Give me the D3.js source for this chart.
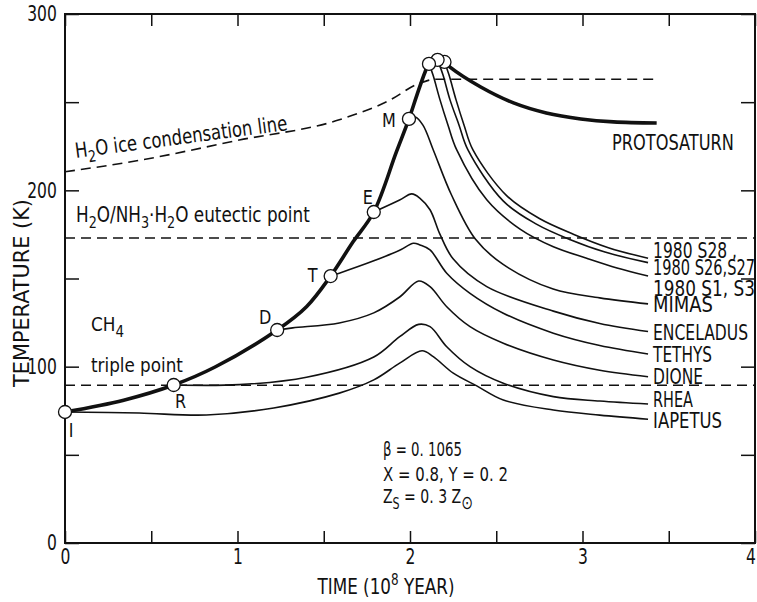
<!DOCTYPE html>
<html>
<head>
<meta charset="utf-8">
<script src="https://cdn.jsdelivr.net/npm/d3@7"></script>
<style>
  body { margin: 0; background: #fff; }
  text { font-family: "DejaVu Sans", sans-serif; fill: #111; }
</style>
</head>
<body>
<svg id="chart" width="757" height="602"></svg>
<script>
// tick values
const timeTicks = [0, 0.5, 1, 1.5, 2, 2.5, 3, 3.5, 4];
const tempTicks = [0, 50, 100, 150, 200, 250, 300];

// protosaturn midplane temperature, [time (1e8 yr), T (K)]
const protosaturn = [[0, 74.3], [0.34, 81], [0.63, 89.6], [0.87, 99.8], [1.23, 120.8], [1.40, 134], [1.54, 151.4],
  [1.67, 170.8], [1.79, 187.7], [1.92, 221.5], [1.994, 240.5], [2.04, 254], [2.087, 267], [2.11, 271.7],
  [2.16, 274], [2.20, 272.8], [2.23, 270], [2.41, 258.6], [2.60, 249.6], [2.79, 243.9], [2.99, 240.5],
  [3.18, 238.8], [3.43, 238.2]];

// satellite curves (first point = where they leave the protosaturn curve)
const s28 = [[2.20, 272.8], [2.226, 265.5], [2.267, 251.3], [2.313, 237.1], [2.365, 222.9], [2.56, 197], [2.75, 184], [2.95, 175], [3.15, 167.5], [3.38, 161.5]];
const s26s27 = [[2.16, 274], [2.191, 265.5], [2.232, 251.3], [2.284, 237.1], [2.336, 222.9], [2.54, 194], [2.73, 181], [2.93, 172], [3.13, 165], [3.38, 159]];
const s1s3 = [[2.11, 271.7], [2.133, 265.5], [2.174, 251.3], [2.22, 237.1], [2.271, 222.9], [2.445, 194.6], [2.638, 178], [2.831, 168], [3.024, 161.5], [3.2, 156], [3.38, 151.4]];
const mimas = [[1.994, 240.5], [2.03, 241.6], [2.075, 237], [2.135, 222.9], [2.24, 197.5], [2.38, 172.2], [2.54, 158], [2.83, 144], [3.1, 139], [3.38, 135.6]];
const enceladus = [[1.79, 187.7], [1.94, 194.5], [2.01, 198], [2.058, 195.5], [2.116, 189], [2.174, 175], [2.251, 161], [2.445, 145.4], [2.831, 131.5], [3.1, 124.5], [3.38, 119.9]];
const tethys = [[1.54, 151.4], [1.59, 153], [1.79, 160], [1.94, 166], [2.02, 170], [2.058, 169], [2.116, 166.2], [2.213, 153], [2.348, 141.6], [2.541, 130.3], [2.831, 119], [3.1, 112], [3.38, 107.2]];
const dione = [[1.23, 120.8], [1.32, 122], [1.59, 124.8], [1.79, 130.5], [1.94, 139.5], [2.05, 148.6], [2.116, 145.4], [2.213, 134], [2.348, 122.7], [2.541, 113.3], [2.831, 103.8], [3.1, 98], [3.38, 94.3]];
const rhea = [[0.63, 89.6], [1.01, 89.8], [1.40, 94], [1.79, 105.5], [1.94, 117], [2.05, 124], [2.116, 122.7], [2.213, 111.3], [2.348, 100], [2.541, 90.6], [2.831, 83], [3.1, 80.5], [3.38, 78.8]];
const iapetus = [[0, 74.3], [0.43, 73.7], [0.82, 72.6], [1.21, 76.6], [1.59, 85], [1.79, 92.5], [1.94, 102], [2.07, 109], [2.135, 105.7], [2.251, 96.3], [2.387, 89.1], [2.541, 81.1], [2.831, 75.4], [3.1, 72.5], [3.38, 70.2]];

// names
const satNames = ["1980 S28 ,", "1980 S26,S27", "1980 S1,  S3", "MIMAS", "ENCELADUS", "TETHYS", "DIONE", "RHEA", "IAPETUS"];
const markerNames = ["", "", "", "M", "E", "T", "D", "R", "I"];

// reference lines
const iceLine = [[0, 210.5], [0.43, 217], [1.01, 228.5], [1.59, 240], [1.88, 251], [2.05, 260.5], [2.15, 263], [3.41, 263]];
const eutecticT = 173;
const ch4TripleT = 89.5;

const svg = d3.select("#chart");
const x = d3.scaleLinear().domain([0, 4]).range([65, 755]);
const y = d3.scaleLinear().domain([0, 300]).range([543, 14]);

const line = d3.line().x(d => x(d[0])).y(d => y(d[1])).curve(d3.curveCatmullRom.alpha(0.5));
const lineMono = d3.line().x(d => x(d[0])).y(d => y(d[1])).curve(d3.curveMonotoneX);

// narrow lettering like the original drawing: squeeze horizontally with a scale
const squeeze = (sel, f = 0.74) => sel.each(function () {
  const t = d3.select(this).attr("transform") || "";
  d3.select(this).attr("transform", `${t} scale(${f},1)`);
});
const fit = (sel, w) => sel.each(function () {
  const len = this.getComputedTextLength();
  const t = d3.select(this).attr("transform") || "";
  if (len > 0) d3.select(this).attr("transform", `${t} scale(${w / len},1)`);
});
const label = (tx, ty, size, extra = "") =>
  svg.append("text").attr("transform", `translate(${tx},${ty})${extra}`).attr("font-size", size);

// axes (ticks pointing inward)
const styleAxis = g => {
  g.select(".domain").remove();
  g.selectAll(".tick line").attr("stroke", "#111").attr("stroke-width", 1.5);
  g.selectAll(".tick text").attr("font-size", 21).attr("font-family", null).attr("fill", "#111");
};
svg.append("g").attr("transform", `translate(0,${y(0)})`)
  .call(d3.axisBottom(x).tickValues(timeTicks).tickSize(-12).tickPadding(6)
    .tickFormat(d => Number.isInteger(d) ? d : ""))
  .call(styleAxis)
  .call(g => g.selectAll(".tick text").attr("x", d => d === 4 ? -6 : 0).call(squeeze));
svg.append("g").attr("transform", `translate(0,${y(300)})`)
  .call(d3.axisTop(x).tickValues(timeTicks).tickSize(-12).tickFormat(""))
  .call(styleAxis);
svg.append("g").attr("transform", `translate(${x(0)},0)`)
  .call(d3.axisLeft(y).tickValues(tempTicks).tickSize(-14).tickPadding(11)
    .tickFormat(d => d % 100 === 0 ? d : ""))
  .call(styleAxis)
  .call(g => g.selectAll(".tick text").call(squeeze));
svg.append("g").attr("transform", `translate(${x(4)},0)`)
  .call(d3.axisRight(y).tickValues(tempTicks).tickSize(-14).tickFormat(""))
  .call(styleAxis);

svg.append("rect")
  .attr("x", x(0)).attr("y", y(300))
  .attr("width", x(4) - x(0)).attr("height", y(0) - y(300))
  .attr("fill", "none").attr("stroke", "#111").attr("stroke-width", 2);

// dashed reference lines
svg.append("path").attr("d", lineMono(iceLine))
  .attr("fill", "none").attr("stroke", "#111").attr("stroke-width", 1.6).attr("stroke-dasharray", "10,6");
[eutecticT, ch4TripleT].forEach(t => {
  svg.append("line")
    .attr("x1", x(0)).attr("x2", x(4)).attr("y1", y(t)).attr("y2", y(t))
    .attr("stroke", "#111").attr("stroke-width", 1.6).attr("stroke-dasharray", "10,6");
});

// satellite curves
const satellites = [s28, s26s27, s1s3, mimas, enceladus, tethys, dione, rhea, iapetus];
satellites.forEach(pts => {
  svg.append("path").attr("d", line(pts))
    .attr("fill", "none").attr("stroke", "#111").attr("stroke-width", 1.6);
});

// protosaturn (thick)
svg.append("path").attr("d", line(protosaturn))
  .attr("fill", "none").attr("stroke", "#111").attr("stroke-width", 3.6);

// markers where satellites separate
satellites.forEach(pts => {
  svg.append("circle")
    .attr("cx", x(pts[0][0])).attr("cy", y(pts[0][1])).attr("r", 6.5)
    .attr("fill", "#fff").attr("stroke", "#111").attr("stroke-width", 1.3);
});

// marker letters
const markerOffsets = { M: [-20, 8], E: [-6, -8], T: [-18, 6], D: [-12, -6], R: [7, 23], I: [6, 25] };
satellites.forEach((pts, i) => {
  const name = markerNames[i];
  if (!name) return;
  const o = markerOffsets[name];
  label(x(pts[0][0]) + o[0], y(pts[0][1]) + o[1], 20)
    .attr("text-anchor", "middle").text(name).call(squeeze, 0.8);
});

// satellite labels at the curve ends
const labelShift = [-8, 5, 12, 1, 1, 1, 0, -5, 1];
const labelWidth = [84, 102, 102, 60, 95, 59, 50, 40, 69];
satellites.forEach((pts, i) => {
  const last = pts[pts.length - 1];
  label(x(last[0]) + 5, y(last[1]) + labelShift[i] + 7.5, 21)
    .text(satNames[i]).call(fit, labelWidth[i]);
});

label(612, 150, 22).text("PROTOSATURN").call(fit, 122);

// reference-line captions
const iceText = label(76, 158, 21, " rotate(-7.5)");
iceText.append("tspan").text("H");
iceText.append("tspan").attr("dy", 6).attr("font-size", 16).text("2");
iceText.append("tspan").attr("dy", -6).text("O ice condensation line");
fit(iceText, 214);

const eutText = label(76, 222, 21);
eutText.append("tspan").text("H");
eutText.append("tspan").attr("dy", 6).attr("font-size", 16).text("2");
eutText.append("tspan").attr("dy", -6).text("O/NH");
eutText.append("tspan").attr("dy", 6).attr("font-size", 16).text("3");
eutText.append("tspan").attr("dy", -6).text("·H");
eutText.append("tspan").attr("dy", 6).attr("font-size", 16).text("2");
eutText.append("tspan").attr("dy", -6).text("O eutectic point");
fit(eutText, 234);

const ch4Text = label(91, 331, 20);
ch4Text.append("tspan").text("CH");
ch4Text.append("tspan").attr("dy", 6).attr("font-size", 16).text("4");
fit(ch4Text, 33);
label(91, 372, 20).text("triple point").call(fit, 92);

// parameters
label(383, 456, 19).text("β = 0. 1065").call(fit, 79);
label(383, 481, 19).text("X = 0.8,  Y = 0. 2").call(fit, 125);
const zText = label(383, 503, 19);
zText.append("tspan").text("Z");
zText.append("tspan").attr("dy", 6).attr("font-size", 15).text("S");
zText.append("tspan").attr("dy", -6).text(" = 0. 3 Z");
zText.append("tspan").attr("dy", 6).attr("font-size", 19).text("⊙");
fit(zText, 90);

// axis titles
label(29, 293, 21, " rotate(-90)")
  .attr("text-anchor", "middle").text("TEMPERATURE (K)").call(fit, 188);
const tText = label(386, 594, 21).attr("text-anchor", "middle");
tText.append("tspan").text("TIME (10");
tText.append("tspan").attr("dy", -9).attr("font-size", 15).text("8");
tText.append("tspan").attr("dy", 9).text(" YEAR)");
fit(tText, 137);
</script>
</body>
</html>
